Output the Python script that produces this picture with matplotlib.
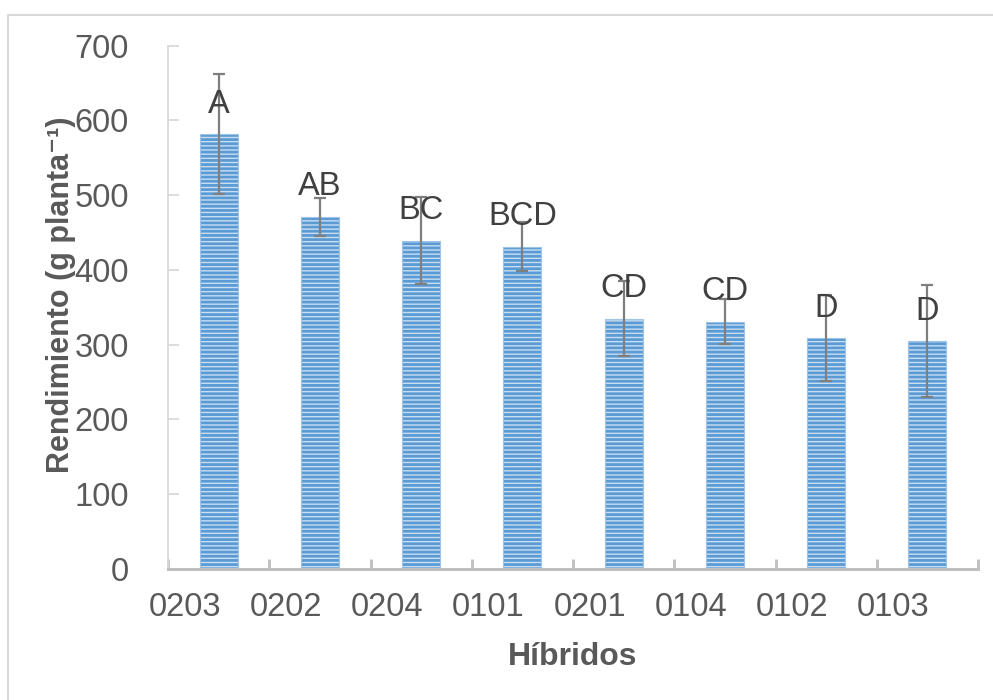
import matplotlib
matplotlib.use("Agg")
import matplotlib.pyplot as plt
import matplotlib.transforms as mtransforms
from matplotlib.patches import Rectangle

plt.rcParams['font.family'] = ['Liberation Sans', 'DejaVu Sans']
plt.rcParams['hatch.linewidth'] = 2.0

hibridos = ["0203", "0202", "0204", "0101", "0201", "0104", "0102", "0103"]
rendimiento = [582, 471, 439, 431, 335, 331, 309, 305]
error = [80, 25, 58, 33, 50, 30, 58, 75]
letras = ["A", "AB", "BC", "BCD", "CD", "CD", "D", "D"]
y_ticks = [0, 100, 200, 300, 400, 500, 600, 700]

dpi = 100
fig = plt.figure(figsize=(9.93, 7.0), dpi=dpi)
ax = fig.add_axes([168/993, 1-569/700, (978-168)/993, (569-45.7)/700])

# outer chart border
fig.patches.append(Rectangle((7.5/993, -0.05), 1.2, 1-14.5/700+0.05,
                             transform=fig.transFigure, fill=False,
                             edgecolor='#d9d9d9', linewidth=1.5))

x = list(range(len(hibridos)))
# fill
ax.bar(x, rendimiento, width=0.375, color='#c9def2', linewidth=0, zorder=2)
# stripes (hatch uses edge colour)
ax.bar(x, rendimiento, width=0.375, fill=False, edgecolor='#5b9bd5',
       linewidth=0, hatch='----', zorder=2.1)
# outline
ax.bar(x, rendimiento, width=0.375, fill=False, edgecolor='#9dc3e6',
       linewidth=0.8, zorder=2.2)
ax.errorbar(x, rendimiento, yerr=error, fmt='none', ecolor='#7f7f7f',
            elinewidth=1.6, capsize=4.5, capthick=1.6, zorder=3)
for xi, v, t in zip(x, rendimiento, letras):
    ax.text(xi, v + 40, t, ha='center', va='center', fontsize=23.5,
            color='#404040', zorder=4)

ax.set_xlim(-0.5, len(hibridos) - 0.5)
ax.set_ylim(0, 700)
ax.set_yticks(y_ticks)
ax.set_yticklabels([str(v) for v in y_ticks], fontsize=23.5, color='#595959')

# x ticks at category boundaries
ax.set_xticks([i - 0.5 for i in range(len(hibridos) + 1)])
ax.set_xticklabels([])
ax.tick_params(axis='x', which='major', direction='in', length=7,
               width=2, color='#bfbfbf')
ax.tick_params(axis='y', direction='in', length=8, width=1.3,
               color='#d9d9d9', pad=28)

# category labels (shifted left as in the reference)
trans = mtransforms.blended_transform_factory(ax.transData, fig.transFigure)
offset = mtransforms.ScaledTranslation(-34/dpi, 0, fig.dpi_scale_trans)
for xi, lab in zip(x, hibridos):
    ax.text(xi, 1-608/700, lab, transform=trans + offset, ha='center',
            va='center', fontsize=23.5, color='#595959', clip_on=False)

for s in ['top', 'right']:
    ax.spines[s].set_visible(False)
ax.spines['left'].set_color('#d9d9d9')
ax.spines['left'].set_linewidth(1.3)
ax.spines['bottom'].set_color('#bfbfbf')
ax.spines['bottom'].set_linewidth(2.2)

fig.text(76/993, 1-295/700, "Rendimiento (g planta\u207b\u00b9)",
         rotation=90, ha='right', va='center', fontsize=22,
         fontweight='bold', color='#595959')
fig.text(573/993, 1-657/700, "Híbridos", ha='center', va='center',
         fontsize=23, fontweight='bold', color='#595959')

fig.savefig("out.png", dpi=dpi)
